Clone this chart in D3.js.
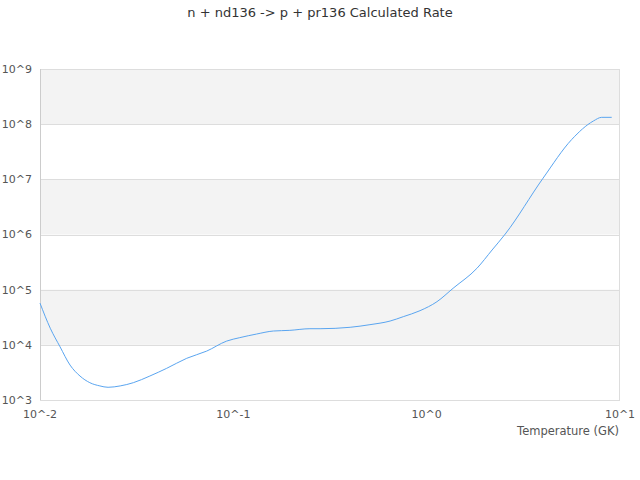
<!DOCTYPE html>
<html lang="en">
<head>
    <meta charset="UTF-8">
    <title>n + nd136 -> p + pr136 Calculated Rate</title>
    <script src="https://d3js.org/d3.v7.min.js"></script>
    <style>
        body { margin: 0; font-family: "DejaVu Sans", sans-serif; background: #fff; }
        .tick-label { font-size: 11px; fill: #555; }
        .axis-title { font-size: 11.5px; fill: #555; }
        .title { font-size: 13px; fill: #333; }
    </style>
</head>
<body>
    <div id="chart"></div>
    <script>
        // temperature (GK) and rate
        const temperature = [0.01, 0.0113, 0.0127, 0.0143, 0.0161, 0.0181, 0.0204, 0.0225, 0.026, 0.0304,
            0.037, 0.0452, 0.0574, 0.0728, 0.0924, 0.108, 0.132, 0.161, 0.196, 0.249,
            0.281, 0.402, 0.509, 0.647, 0.757, 0.924, 1.13, 1.37, 1.82, 2.18,
            2.55, 4.0, 5.62, 7.28, 8.04, 9.06];
        const rate = [5.7e4, 2.0e4, 9.2e3, 4.3e3, 2.72e3, 2.06e3, 1.8e3, 1.7e3, 1.8e3, 2.06e3,
            2.72e3, 3.75e3, 5.7e3, 7.7e3, 1.17e4, 1.35e4, 1.57e4, 1.78e4, 1.83e4, 1.96e4,
            1.96e4, 2.08e4, 2.32e4, 2.7e4, 3.24e4, 4.16e4, 6.05e4, 1.06e5, 2.44e5, 5.24e5,
            1.02e6, 1.05e7, 5.25e7, 1.14e8, 1.33e8, 1.33e8];
        const xTicks = [0.01, 0.1, 1, 10];
        const yTicks = [1e3, 1e4, 1e5, 1e6, 1e7, 1e8, 1e9];
        const xTickLabels = ["10^-2", "10^-1", "10^0", "10^1"];
        const yTickLabels = ["10^3", "10^4", "10^5", "10^6", "10^7", "10^8", "10^9"];

        const width = 640, height = 480;
        const margin = { top: 69, right: 20, bottom: 80, left: 40 };
        const w = width - margin.left - margin.right,
              h = height - margin.top - margin.bottom;

        const svg = d3.select("#chart").append("svg")
            .attr("width", width)
            .attr("height", height);

        svg.append("text")
            .attr("class", "title")
            .attr("x", width / 2)
            .attr("y", 17)
            .attr("text-anchor", "middle")
            .text("n + nd136 -> p + pr136 Calculated Rate");

        const g = svg.append("g")
            .attr("transform", `translate(${margin.left},${margin.top})`);

        const x = d3.scaleLog().domain([0.01, 10]).range([0, w]);
        const y = d3.scaleLog().domain([1e3, 1e9]).range([h, 0]);

        // alternating bands (10^4-10^5, 10^6-10^7, 10^8-10^9)
        const bands = d3.pairs(yTicks).filter((d, i) => i % 2 === 1);
        g.selectAll("rect.band")
            .data(bands)
            .enter().append("rect")
            .attr("class", "band")
            .attr("x", 0)
            .attr("width", w)
            .attr("y", d => y(d[1]))
            .attr("height", d => y(d[0]) - y(d[1]))
            .attr("fill", "#f3f3f3");

        // grid lines
        g.selectAll("line.grid")
            .data(yTicks)
            .enter().append("line")
            .attr("class", "grid")
            .attr("x1", 0).attr("x2", w)
            .attr("y1", d => Math.round(y(d)) + 0.5)
            .attr("y2", d => Math.round(y(d)) + 0.5)
            .attr("stroke", "#ddd");

        g.append("line")
            .attr("x1", 0.5).attr("x2", 0.5)
            .attr("y1", 0).attr("y2", h)
            .attr("stroke", "#ccc");
        g.append("line")
            .attr("x1", w - 0.5).attr("x2", w - 0.5)
            .attr("y1", 0).attr("y2", h)
            .attr("stroke", "#ddd");

        // y labels
        g.selectAll("text.ylab")
            .data(yTicks)
            .enter().append("text")
            .attr("class", "tick-label")
            .attr("x", -8)
            .attr("y", d => y(d))
            .attr("dy", "0.35em")
            .attr("text-anchor", "end")
            .text((d, i) => yTickLabels[i]);

        // x labels
        g.selectAll("text.xlab")
            .data(xTicks)
            .enter().append("text")
            .attr("class", "tick-label")
            .attr("x", d => x(d))
            .attr("y", h + 18)
            .attr("text-anchor", "middle")
            .text((d, i) => xTickLabels[i]);

        g.append("text")
            .attr("class", "axis-title")
            .attr("x", w - 1)
            .attr("y", h + 35)
            .attr("text-anchor", "end")
            .text("Temperature (GK)");

        const line = d3.line()
            .x((d, i) => x(temperature[i]))
            .y(d => y(d))
            .curve(d3.curveMonotoneX);

        g.append("path")
            .datum(rate)
            .attr("d", line)
            .attr("fill", "none")
            .attr("stroke", "#5aa5f0")
            .attr("stroke-width", 1);
    </script>
</body>
</html>
